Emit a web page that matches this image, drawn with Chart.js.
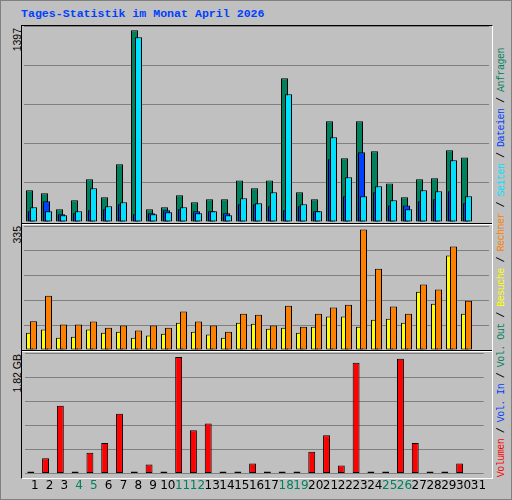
<!DOCTYPE html>
<html><head><meta charset="utf-8">
<script src="https://cdn.jsdelivr.net/npm/chart.js@4"></script>
<style>
body{margin:0;background:#fff}
#wrap{position:relative;width:510px;height:498px;background:#C0C0C0;border:1px solid #808080;overflow:hidden}
.c{position:absolute}
.frame{position:absolute;left:20px;top:24px;width:470px;height:452px;border-style:solid;border-width:1px;border-color:#000 #fff #fff #000}
.sep{position:absolute;left:21px;width:470px;height:1px}
.vt{position:absolute;writing-mode:vertical-rl;transform:rotate(180deg);white-space:pre;line-height:1}
#title{position:absolute;left:20px;top:6px;font:bold 11.6px "Liberation Mono",monospace;color:#0040FF;white-space:pre}
.yl{font:10.5px "Liberation Sans",sans-serif;color:#000;left:10px}
#legend{left:495px;bottom:22px;font:10px "Liberation Mono",monospace;letter-spacing:-0.5px}
</style></head><body>
<div id="wrap">
<div id="title">Tages-Statistik im Monat April 2026</div>
<div class="frame"></div>
<div class="sep" style="top:222px;background:#000"></div>
<div class="sep" style="top:223px;background:#fff"></div>
<div class="sep" style="top:349px;background:#000"></div>
<div class="sep" style="top:350px;background:#fff"></div>
<div class="c" style="left:23px;top:25px;width:465px;height:196px"><canvas id="c1"></canvas></div>
<div class="c" style="left:23px;top:225px;width:465px;height:124px"><canvas id="c2"></canvas></div>
<div class="c" style="left:23px;top:352px;width:465px;height:145px"><canvas id="c3"></canvas></div>
<div class="vt yl" style="top:27px">1397</div>
<div class="vt yl" style="top:225px">335</div>
<div class="vt yl" style="top:353px">1.82 GB</div>
<div class="vt" id="legend"><span style="color:#FF0000">Volumen</span> / <span style="color:#0040FF">Vol. In</span> / <span style="color:#00805C">Vol. Out</span> / <span style="color:#FFFF00">Besuche</span> / <span style="color:#FF8000">Rechner</span> / <span style="color:#00E0FF">Seiten</span> / <span style="color:#0040FF">Dateien</span> / <span style="color:#00805C">Anfragen</span></div>
</div>
<script>
const days = ["1","2","3","4","5","6","7","8","9","10","11","12","13","14","15","16","17","18","19","20","21","22","23","24","25","26","27","28","29","30","31"];
const weekendDays = ["4","5","11","12","18","19","25","26"];
const anfragen = [231,209,92,158,311,180,421,1397,92,107,194,143,165,165,303,245,303,1048,216,165,734,464,734,515,281,180,311,318,522,470,null];
const dateien = [78,151,56,63,85,92,129,56,63,85,92,78,78,63,129,129,114,85,114,78,457,187,508,216,121,121,151,165,224,136,null];
const seiten = [107,78,49,78,246,114,143,1346,56,71,107,63,78,49,173,136,216,931,129,78,617,326,187,260,158,92,231,224,450,187,null];
const besuche = [48,57,34,37,57,48,51,34,40,45,76,51,43,34,76,73,59,62,48,65,93,93,65,84,87,76,162,129,263,101,null];
const rechner = [80,151,71,71,79,62,68,54,68,62,107,79,68,51,101,98,68,123,65,101,118,126,335,226,121,101,182,168,288,137,null];
const volumen = [0,0.239,1.057,0,0.325,0.478,0.935,0,0.142,0,1.82,0.676,0.783,0,0,0.158,0,0,0,0.341,0.600,0.127,1.729,0,0,1.790,0.478,0,0,0.158,null];
const volIn = days.map(()=>null);

const forwardDraw = {
  id:'forwardDraw',
  beforeDatasetDraw(){ return false; },
  afterDatasetsDraw(chart){
    chart.data.datasets.forEach((d,i)=>{ const m=chart.getDatasetMeta(i); if(!m.hidden) m.controller.draw(); });
  }
};
function ds(data,color,cp,bp,minLen){
  return {data,backgroundColor:color,borderColor:'#000',borderWidth:1,borderSkipped:false,
    categoryPercentage:cp,barPercentage:bp,minBarLength:minLen||0};
}
function mk(id,datasets,ymax,showX){
  new Chart(document.getElementById(id),{
    type:'bar',
    data:{labels:days,datasets},
    plugins:[forwardDraw],
    options:{
      responsive:true,maintainAspectRatio:false,animation:false,
      layout:{padding:0},
      plugins:{legend:{display:false},tooltip:{enabled:false}},
      scales:{
        x:{display:showX,grid:{display:false,drawTicks:false},border:{display:false},
           ticks:{padding:5,labelOffset:2,autoSkip:false,maxRotation:0,font:{family:'DejaVu Sans',size:12},
             color:c=>weekendDays.includes(days[c.index])?'#00805C':'#000'}},
        y:{min:0,max:ymax,ticks:{display:false,stepSize:ymax/5},border:{display:false},
           grid:{color:'#808080',lineWidth:1,drawTicks:false}}
      }
    }
  });
}
mk('c1',[ds(anfragen,'#00805C',0.4,3.5),ds(dateien,'#0040FF',0.4,3.5),ds(seiten,'#00E0FF',0.4,3.5)],1428,false);
mk('c2',[ds(besuche,'#FFFF00',0.5333,1.75),ds(rechner,'#FF8000',0.5333,1.75)],345,false);
mk('c3',[ds(volumen,'#FF0000',0.5333,1.75,2),ds(volIn,'#0040FF',0.5333,1.75)],1.881,true);
</script>
</body></html>
